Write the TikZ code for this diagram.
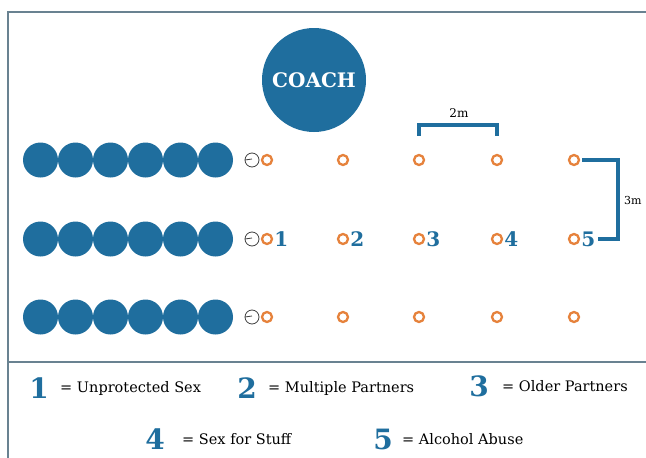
\documentclass[tikz,border=0pt]{standalone}
\usepackage{fontspec}
\setmainfont{DejaVu Serif}
\definecolor{coachblue}{RGB}{31,110,158}
\definecolor{coneorange}{RGB}{230,130,60}
\definecolor{framegray}{RGB}{105,130,145}

\begin{document}
\begin{tikzpicture}[x=1pt,y=-1pt,
  player/.style={circle,fill=coachblue,minimum size=35pt,inner sep=0pt},
  ball/.style={circle,draw=black!75,line width=0.8pt,minimum size=14pt,inner sep=0pt,
    path picture={\draw[black!75,line width=0.8pt] (path picture bounding box.west) -- ++(7pt,1pt);}},
  cone/.style={circle,draw=coneorange,line width=2.3pt,minimum size=10pt,inner sep=0pt},
  rownum/.style={text=coachblue,font=\bfseries\fontsize{20}{20}\selectfont,inner sep=0pt,anchor=west},
  keynum/.style={text=coachblue,font=\bfseries\fontsize{28}{28}\selectfont,inner sep=0pt},
  keytext/.style={font=\fontsize{14.5}{14.5}\selectfont,anchor=west,inner sep=0pt},
  bracket/.style={coachblue,line width=3.5pt}]
\useasboundingbox (0,0) rectangle (646,458);
\fill[white] (0,0) rectangle (646,458);

% frame and legend line
\draw[framegray,line width=1.3pt] (8,470) -- (8,12) -- (660,12);
\draw[framegray,line width=1.3pt] (8,362) -- (660,362);

% coach
\node[circle,fill=coachblue,minimum size=104pt,inner sep=0pt,text=white,
  font=\bfseries\fontsize{20}{20}\selectfont] (coach) at (314,80) {COACH};

% players, balls and cones
\foreach \r/\y in {1/160,2/239,3/317} {
  \foreach \i in {1,...,6}
    \node[player] (p\r\i) at ({5.5+35*\i},\y) {};
  \node[ball] (b\r) at (252,\y) {};
  \foreach \c/\x in {1/267,2/343,3/419,4/497,5/574}
    \node[cone] (c\r\c) at (\x,\y) {};
}
\foreach \c in {1,...,5}
  \node[rownum] (n\c) at ([xshift=1pt]c2\c.east) {\c};

% distances
\draw[bracket] ([yshift=18pt]c13.north) -- ++(0,-11) -| ([yshift=18pt]c14.north);
\node (twom) at (459,113) {\fontsize{12}{12}\selectfont 2m};
\draw[bracket] ([xshift=2pt]c15.east) -- (618,160) |- ([xshift=3pt]n5.east);
\node[anchor=west,inner sep=1pt] (threem) at (623,200) {\fontsize{11}{11}\selectfont 3m};

% key
\node[keynum] (k1) at (39,388) {1};
\node[keytext] (t1) at (60,388) {= Unprotected Sex};
\node[keynum] (k2) at (247,388) {2};
\node[keytext] (t2) at (268,388) {= Multiple Partners};
\node[keynum] (k3) at (479,386) {3};
\node[keytext] (t3) at (502,386) {= Older Partners};
\node[keynum] (k4) at (155,439) {4};
\node[keytext] (t4) at (182,439) {= Sex for Stuff};
\node[keynum] (k5) at (383,439) {5};
\node[keytext] (t5) at (402,439) {= Alcohol Abuse};
\end{tikzpicture}
\end{document}
